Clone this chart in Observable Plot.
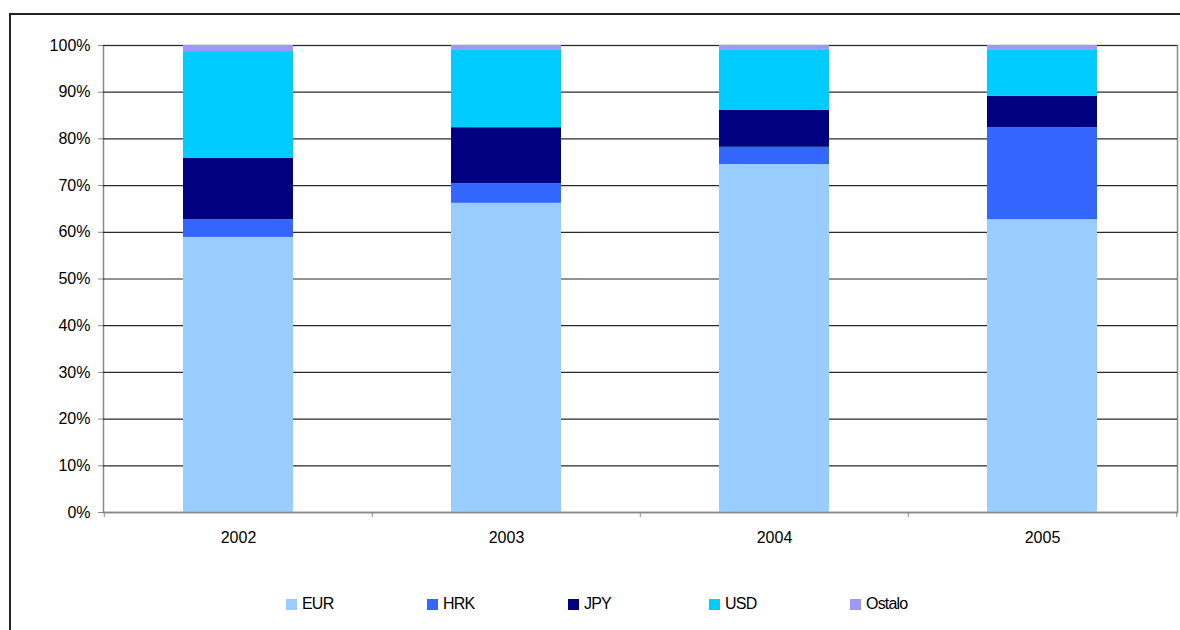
<!DOCTYPE html>
<html><head><meta charset="utf-8">
<script src="https://cdn.jsdelivr.net/npm/d3@7"></script>
<script src="https://cdn.jsdelivr.net/npm/@observablehq/plot@0.6"></script>
<style>
body{margin:0;background:#fff;font-family:"Liberation Sans",Arial,sans-serif;}
#wrap{position:relative;width:1180px;height:630px;overflow:hidden;background:#fff;}
#frame{position:absolute;left:9px;top:13px;width:1200px;height:640px;border-left:2px solid #222;border-top:2px solid #222;}
#chart{position:absolute;left:0;top:0;}
#legend{position:absolute;top:595px;left:286px;display:flex;font-size:16px;letter-spacing:-0.8px;color:#000;}
.item{display:flex;align-items:center;width:141px;}
.sw{width:11px;height:11px;margin-right:5px;}
</style></head>
<body>
<div id="wrap"><div id="frame"></div><div id="chart"></div><div id="legend"></div></div>
<script>
const years = ["2002","2003","2004","2005"];
const series = ["EUR","HRK","JPY","USD","Ostalo"];
const eur = [58.9, 66.2, 74.5, 62.7];
const hrk = [3.8, 4.2, 3.7, 19.7];
const jpy = [13.1, 12.0, 7.9, 6.7];
const usd = [22.9, 16.7, 13.0, 10.0];
const ostalo = [1.3, 0.9, 0.9, 0.9];
const colors = ["#99CCFF","#3366FF","#000080","#00CCFF","#9999FF"];
const yTicks = [0,10,20,30,40,50,60,70,80,90,100];

const valuesBySeries = [eur, hrk, jpy, usd, ostalo];
const data = [];
years.forEach((yr, i) => series.forEach((s, j) => data.push({year: yr, series: s, value: valuesBySeries[j][i]})));

const chart = Plot.plot({
  width: 1180, height: 560,
  marginLeft: 103, marginRight: 3, marginTop: 45, marginBottom: 48,
  style: {fontFamily: '"Liberation Sans", Arial, sans-serif', fontSize: "16px", color: "#000", background: "transparent"},
  x: {domain: years, paddingInner: 0.59, paddingOuter: 0.295, label: null},
  y: {domain: [0, 100], label: null},
  color: {domain: series, range: colors},
  marks: [
    Plot.frame({stroke: "#888", strokeWidth: 1.5}),
    Plot.ruleY(yTicks.filter(d => d > 0), {stroke: "#2a2a2a", strokeWidth: 1.2}),
    Plot.barY(data, {x: "year", y: "value", fill: "series", order: series}),
    Plot.ruleY([0], {stroke: "#888", strokeWidth: 1.5}),
    Plot.ruleX(years, {x: d => d, y1: 0, y2: 0, insetBottom: -5, dx: -134.25, stroke: "#888"}),
    Plot.ruleX([years[years.length - 1]], {x: d => d, y1: 0, y2: 0, insetBottom: -5, dx: 134.25, stroke: "#888"}),
    Plot.axisY({ticks: yTicks, tickFormat: d => d + "%", tickSize: 5, tickPadding: 8, stroke: "#888", fill: "#000", fontSize: 16, label: null}),
    Plot.axisX({tickSize: 0, tickPadding: 19, fill: "#000", fontSize: 16, label: null})
  ]
});
document.getElementById("chart").appendChild(chart);

const legend = document.getElementById("legend");
series.forEach((s, j) => {
  const it = document.createElement("div"); it.className = "item";
  const sw = document.createElement("div"); sw.className = "sw"; sw.style.background = colors[j];
  const t = document.createElement("span"); t.textContent = s;
  it.appendChild(sw); it.appendChild(t); legend.appendChild(it);
});
</script>
</body></html>
